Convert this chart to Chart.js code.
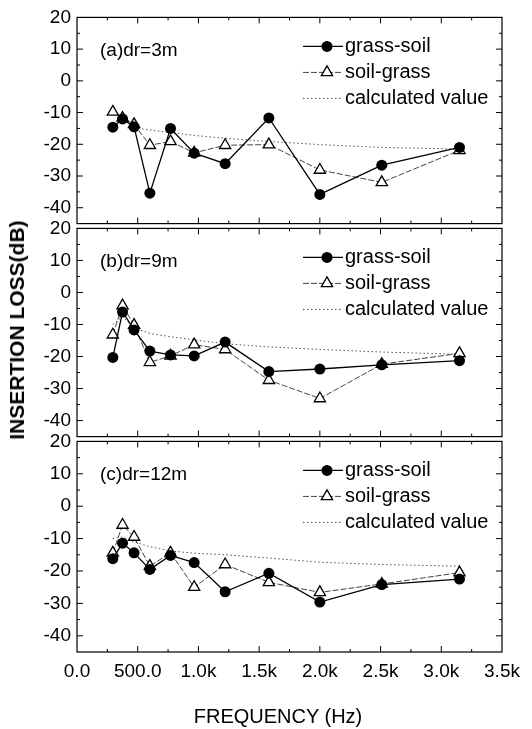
<!DOCTYPE html>
<html>
<head>
<meta charset="utf-8">
<title>Insertion loss vs frequency</title>
<script src="https://cdn.jsdelivr.net/npm/chart.js@4.4.1/dist/chart.umd.min.js"></script>
<style>
    html, body { margin: 0; padding: 0; background: #fff; }
    #wrap { position: relative; width: 532px; height: 729px; overflow: hidden; font-family: "Liberation Sans", Arial, sans-serif; color: #000; }
    #wrap canvas { position: absolute; left: 0; }
    .ytitle { position: absolute; left: 17px; top: 330px; transform: translate(-50%, -50%) rotate(-90deg); white-space: nowrap; font-size: 21px; font-weight: bold; }
    .xtitle { position: absolute; left: 278px; top: 716px; transform: translate(-50%, -50%); white-space: nowrap; font-size: 20px; }
</style>
</head>
<body>
<div id="wrap">
    <canvas id="panel-a" width="532" height="241" style="top:0px"></canvas>
    <canvas id="panel-b" width="532" height="243" style="top:211px"></canvas>
    <canvas id="panel-c" width="532" height="305" style="top:424px"></canvas>
    <div class="ytitle">INSERTION LOSS(dB)</div>
    <div class="xtitle">FREQUENCY (Hz)</div>
</div>
<script>
(function () {
    'use strict';

    // band centres (Hz)
    const FREQ_HZ = [295, 375, 470, 600, 770, 965, 1220, 1580, 2000, 2510, 3150];

    // (a) dr=3m
    const A_GRASS_SOIL = [-14.6, -12.0, -14.5, -35.4, -15.0, -22.8, -26.1, -11.7, -35.8, -26.6, -21.0];
    const A_SOIL_GRASS = [-9.8, -11.7, -13.7, -20.3, -19.1, -22.7, -20.3, -20.1, -28.1, -32.0, -21.9];
    const A_CALC = [null, null, -14.8, -15.5, -16.3, -17.2, -18.1, -19.1, -20.1, -21.0, -21.5];

    // (b) dr=9m
    const B_GRASS_SOIL = [-20.3, -6.1, -11.7, -18.3, -19.5, -19.8, -15.5, -24.7, -23.9, -22.6, -21.3];
    const B_SOIL_GRASS = [-13.2, -4.1, -10.2, -21.8, -19.8, -16.3, -17.8, -27.4, -33.1, -22.4, -19.0];
    const B_CALC = [-10.0, -7.5, -11.0, -12.8, -13.8, -14.8, -16.0, -17.0, -17.8, -18.6, -19.3];

    // (c) dr=12m
    const C_GRASS_SOIL = [-16.2, -11.4, -14.4, -19.5, -15.2, -17.4, -26.4, -20.7, -29.6, -24.2, -22.5];
    const C_SOIL_GRASS = [-14.4, -5.8, -9.5, -18.5, -14.4, -25.0, -18.0, -23.5, -26.6, -24.0, -20.5];
    const C_CALC = [-10.0, -9.5, -11.0, -12.5, -13.8, -14.5, -15.0, -16.0, -17.3, -18.0, -18.5];

    const X_TICK_LABELS = ['0.0', '500.0', '1.0k', '1.5k', '2.0k', '2.5k', '3.0k', '3.5k'];
    const LEGEND_LABELS = ['grass-soil', 'soil-grass', 'calculated value'];
    const PANEL_LABELS = ['(a)dr=3m', '(b)dr=9m', '(c)dr=12m'];

    const FONT = '"Liberation Sans", Arial, sans-serif';

    function pts(ys) {
        return FREQ_HZ.map(function (f, i) { return { x: f, y: ys[i] }; });
    }

    function drawMarker(ctx, style, x, y) {
        ctx.save();
        ctx.lineWidth = 1.3;
        ctx.strokeStyle = '#000';
        ctx.beginPath();
        if (style === 'circle') {
            ctx.fillStyle = '#000';
            ctx.arc(x, y, 5.5, 0, Math.PI * 2);
            ctx.fill();
        } else {
            const r = 6.5;
            ctx.fillStyle = '#fff';
            ctx.moveTo(x, y - r);
            ctx.lineTo(x + r * 0.866, y + r * 0.5);
            ctx.lineTo(x - r * 0.866, y + r * 0.5);
            ctx.closePath();
            ctx.fill();
            ctx.stroke();
        }
        ctx.restore();
    }

    // frame, inward ticks, panel label and legend
    const panelDeco = {
        id: 'panelDeco',
        afterDraw: function (chart, args, opts) {
            const ctx = chart.ctx;
            const a = chart.chartArea;
            const xs = chart.scales.x;
            const ys = chart.scales.y;
            ctx.save();
            ctx.strokeStyle = '#000';
            ctx.lineWidth = 1.2;
            ctx.strokeRect(a.left, a.top, a.right - a.left, a.bottom - a.top);

            ctx.lineWidth = 1;
            ctx.beginPath();
            for (let f = 250; f < 3500; f += 250) {
                const px = xs.getPixelForValue(f);
                const len = f % 500 === 0 ? 6 : 3;
                ctx.moveTo(px, a.bottom); ctx.lineTo(px, a.bottom - len);
                ctx.moveTo(px, a.top); ctx.lineTo(px, a.top + len);
            }
            for (let v = -40; v < 20; v += 5) {
                const py = ys.getPixelForValue(v);
                const len = v % 10 === 0 ? 6 : 3;
                ctx.moveTo(a.left, py); ctx.lineTo(a.left + len, py);
                ctx.moveTo(a.right, py); ctx.lineTo(a.right - len, py);
            }
            ctx.stroke();

            ctx.fillStyle = '#000';
            ctx.font = '19px ' + FONT;
            ctx.textBaseline = 'middle';
            ctx.textAlign = 'left';
            ctx.fillText(opts.label, a.left + 23, a.top + 33);

            const lx0 = 303, lx1 = 343, mx = 327, tx = 345;
            const rows = [a.top + 29, a.top + 55, a.top + 81];

            ctx.lineWidth = 1.2;
            ctx.beginPath();
            ctx.moveTo(lx0, rows[0]); ctx.lineTo(lx1, rows[0]);
            ctx.stroke();
            drawMarker(ctx, 'circle', mx, rows[0]);

            ctx.strokeStyle = '#444';
            ctx.lineWidth = 1;
            ctx.setLineDash([6, 2]);
            ctx.beginPath();
            ctx.moveTo(lx0, rows[1]); ctx.lineTo(lx1, rows[1]);
            ctx.stroke();
            ctx.setLineDash([]);
            drawMarker(ctx, 'triangle', mx, rows[1]);

            ctx.strokeStyle = '#444';
            ctx.setLineDash([1.5, 2.5]);
            ctx.beginPath();
            ctx.moveTo(lx0, rows[2]); ctx.lineTo(lx1, rows[2]);
            ctx.stroke();
            ctx.setLineDash([]);

            ctx.fillStyle = '#000';
            ctx.font = '20px ' + FONT;
            ctx.fillText(LEGEND_LABELS[0], tx, rows[0]);
            ctx.fillText(LEGEND_LABELS[1], tx, rows[1]);
            ctx.fillText(LEGEND_LABELS[2], tx, rows[2]);
            ctx.restore();
        }
    };

    function makePanel(id, label, gs, sg, calc, showX) {
        const canvas = document.getElementById(id);
        return new Chart(canvas, {
            type: 'line',
            data: {
                datasets: [
                    {
                        label: LEGEND_LABELS[0],
                        data: pts(gs),
                        borderColor: '#000',
                        borderWidth: 1.3,
                        backgroundColor: '#000',
                        pointStyle: 'circle',
                        pointRadius: 5.5,
                        pointBorderWidth: 0,
                        pointBackgroundColor: '#000',
                        tension: 0,
                        order: 0
                    },
                    {
                        label: LEGEND_LABELS[1],
                        data: pts(sg),
                        borderColor: '#444',
                        borderWidth: 1,
                        borderDash: [6, 2],
                        pointStyle: 'triangle',
                        pointRadius: 6.5,
                        pointBorderWidth: 1.3,
                        pointBorderColor: '#000',
                        pointBackgroundColor: '#fff',
                        tension: 0,
                        order: 1
                    },
                    {
                        label: LEGEND_LABELS[2],
                        data: pts(calc),
                        borderColor: '#555',
                        borderWidth: 1,
                        borderDash: [1.5, 2.5],
                        pointRadius: 0,
                        tension: 0,
                        order: 2
                    }
                ]
            },
            options: {
                responsive: false,
                animation: false,
                devicePixelRatio: 1,
                layout: { padding: { top: 15, right: 30, bottom: showX ? 0 : 15, left: 0 } },
                plugins: {
                    legend: { display: false },
                    tooltip: { enabled: false },
                    panelDeco: { label: label }
                },
                scales: {
                    x: {
                        type: 'linear',
                        min: 0,
                        max: 3500,
                        grid: { display: false, drawTicks: false },
                        border: { display: false },
                        ticks: {
                            display: showX,
                            stepSize: 500,
                            autoSkip: false,
                            maxRotation: 0,
                            padding: 8,
                            color: '#000',
                            font: { family: FONT, size: 19 },
                            callback: function (v, i) { return X_TICK_LABELS[i]; }
                        },
                        afterFit: function (scale) { scale.height = showX ? 77 : 0; }
                    },
                    y: {
                        min: -45,
                        max: 20,
                        grid: { display: false, drawTicks: false },
                        border: { display: false },
                        ticks: {
                            stepSize: 10,
                            includeBounds: false,
                            padding: 6,
                            color: '#000',
                            font: { family: FONT, size: 19 },
                            callback: function (v) { return v % 10 === 0 ? String(v) : ''; }
                        },
                        afterFit: function (scale) { scale.width = 77; }
                    }
                }
            },
            plugins: [panelDeco]
        });
    }

    function run() {
        if (typeof Chart === 'undefined') return;
        makePanel('panel-a', PANEL_LABELS[0], A_GRASS_SOIL, A_SOIL_GRASS, A_CALC, false);
        makePanel('panel-b', PANEL_LABELS[1], B_GRASS_SOIL, B_SOIL_GRASS, B_CALC, false);
        makePanel('panel-c', PANEL_LABELS[2], C_GRASS_SOIL, C_SOIL_GRASS, C_CALC, true);
    }

    run();
})();
</script>
</body>
</html>
